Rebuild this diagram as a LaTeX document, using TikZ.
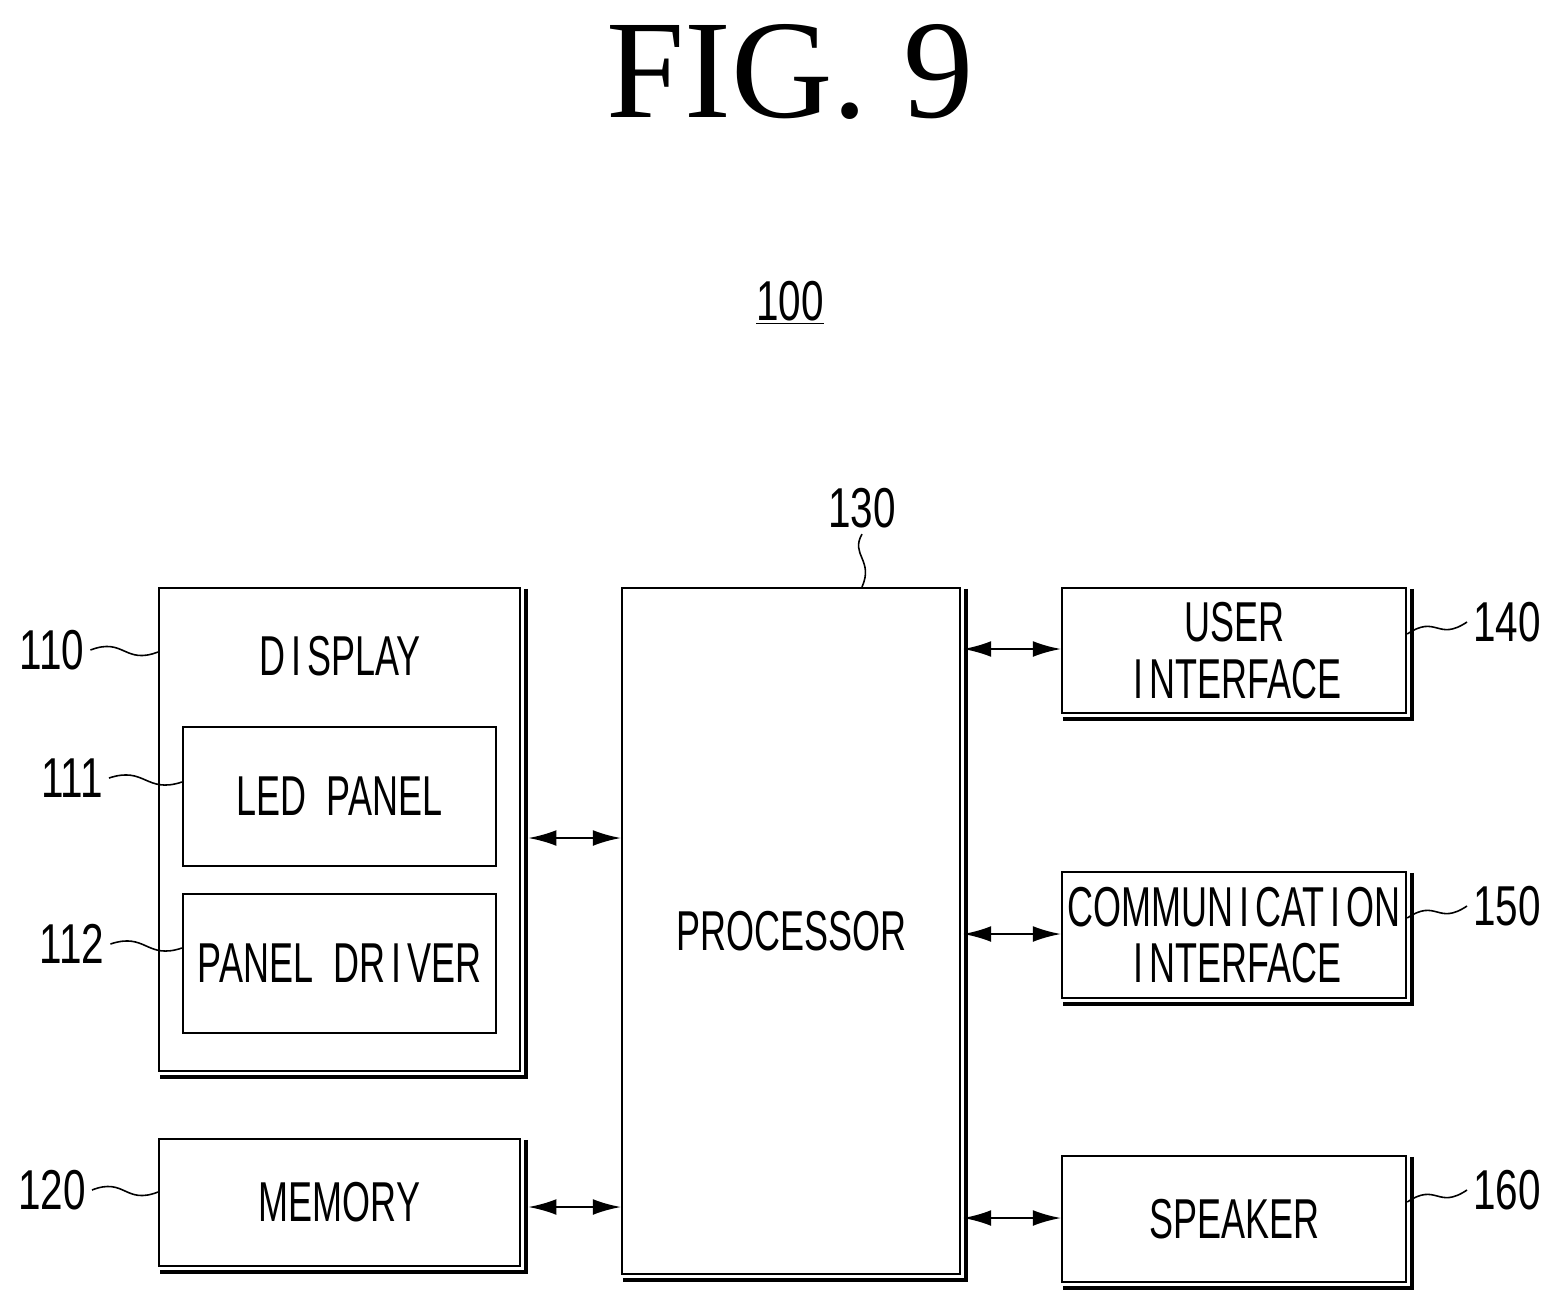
\documentclass[tikz,border=0pt]{standalone}
\usepackage{fontspec}
\setmainfont{Liberation Serif}
\newfontfamily\lblfont{Liberation Sans}
\usetikzlibrary{calc}
\usetikzlibrary{arrows.meta}

\tikzset{
  blk/.style={draw, line width=1.3pt, inner sep=0pt, anchor=north west,
    font=\lblfont\fontsize{32}{38}\selectfont, align=center},
  lbl/.style={font=\lblfont\fontsize{32}{38}\selectfont},
  link/.style={line width=1.3pt, {Latex[length=16pt,width=9pt]}-{Latex[length=16pt,width=9pt]}},
  lead/.style={line width=0.9pt}
}
\newcommand{\cnd}[1]{\scalebox{0.64}[1]{#1}}
% drop shadow along right and bottom edges
\newcommand{\shadowof}[1]{%
  \draw[line width=2.4pt] ([xshift=2.6pt,yshift=-1pt]#1.north east) |- ([xshift=1pt,yshift=-2.6pt]#1.south west);}
% wavy leader line
\newcommand{\leadh}[2]{%
  \draw[lead] (#1) .. controls ($(#1)!0.5!(#2)+(0,-14)$) and ($(#1)!0.5!(#2)+(0,14)$) .. (#2);}

\begin{document}
\begin{tikzpicture}[x=0.02cm,y=-0.02cm]
    \path[use as bounding box] (0,0) rectangle (1561,1308);
    % Title.
    \node[font=\fontsize{80}{90}\selectfont] (title) at (790,72) {FIG. 9};
    \node[lbl] (sys) at (790,303) {\underline{\scalebox{0.72}[1]{100}}};
    % Blocks.
    \node[blk, minimum width=7.22cm, minimum height=9.66cm] (disp) at (158,587) {};
    \node[lbl] (dispt) at (340,656) {\cnd{D\,I\,SPLAY}};
    \node[blk, minimum width=6.26cm, minimum height=2.78cm] (led) at (182,726) {\cnd{LED\ \ PANEL}};
    \node[blk, minimum width=6.26cm, minimum height=2.78cm] (drv) at (182,893) {\cnd{PANEL\ \ DR\,I\,VER}};
    \node[blk, minimum width=7.22cm, minimum height=2.54cm] (mem) at (158,1138) {\cnd{MEMORY}};
    \node[blk, minimum width=6.76cm, minimum height=13.72cm] (proc) at (621,587) {\cnd{PROCESSOR}};
    \node[blk, minimum width=6.88cm, minimum height=2.5cm] (ui) at (1061,587) {\cnd{USER}\\[-6pt]\cnd{\,I\,NTERFACE}};
    \node[blk, minimum width=6.88cm, minimum height=2.52cm] (comm) at (1061,871) {\cnd{COMMUN\,I\,CAT\,I\,ON}\\[-6pt]\cnd{\,I\,NTERFACE}};
    \node[blk, minimum width=6.88cm, minimum height=2.52cm] (spk) at (1061,1155) {\cnd{SPEAKER}};
    \foreach \n in {disp,mem,proc,ui,comm,spk}
      \shadowof{\n}
    % Connections.
    \coordinate (pd) at (621,838);
    \coordinate (pm) at (621,1207);
    \draw[link] ([xshift=4pt]disp.east |- pd) -- (pd);
    \draw[link] ([xshift=4pt]mem.east |- pm) -- (pm);
    \foreach \n/\y in {ui/649, comm/934, spk/1218}{
      \coordinate (r\n) at (963,\y);
      \draw[link] (r\n) -- (\n.west |- r\n);
    }
    % Reference numerals.
    \node[lbl] (n110) at (52,650) {\scalebox{0.72}[1]{110}};
    \node[lbl] (n111) at (72,778) {\scalebox{0.72}[1]{111}};
    \node[lbl] (n112) at (72,944) {\scalebox{0.72}[1]{112}};
    \node[lbl] (n120) at (52,1190) {\scalebox{0.72}[1]{120}};
    \node[lbl] (n130) at (862,508) {\scalebox{0.72}[1]{130}};
    \node[lbl] (n140) at (1507,622) {\scalebox{0.72}[1]{140}};
    \node[lbl] (n150) at (1507,906) {\scalebox{0.72}[1]{150}};
    \node[lbl] (n160) at (1507,1190) {\scalebox{0.72}[1]{160}};
    \leadh{n110.east}{disp.west |- 0,652}
    \leadh{n111.east}{led.west |- 0,782}
    \leadh{n112.east}{drv.west |- 0,948}
    \leadh{n120.east}{mem.west |- 0,1192}
    \leadh{ui.east |- 0,634}{n140.west}
    \leadh{comm.east |- 0,918}{n150.west}
    \leadh{spk.east |- 0,1202}{n160.west}
    \draw[lead] (n130.south) .. controls (850,555) and (874,560) .. (proc.north -| 862,0);
\end{tikzpicture}
\end{document}
